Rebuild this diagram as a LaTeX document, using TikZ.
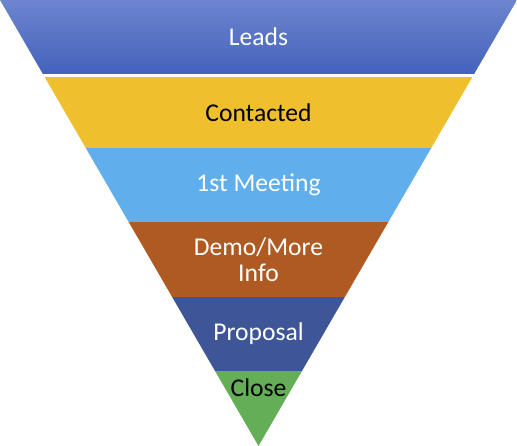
\documentclass[tikz,border=0pt]{standalone}
\usepackage{fontspec}
\setmainfont{Carlito}
\definecolor{leadtop}{HTML}{6D85CE}
\definecolor{leadbot}{HTML}{4462BD}
\definecolor{contc}{HTML}{F0BF2E}
\definecolor{meetc}{HTML}{61AEEC}
\definecolor{democ}{HTML}{AE5A22}
\definecolor{propc}{HTML}{3E5697}
\definecolor{closec}{HTML}{63AE56}
\tikzset{
  lbl/.style={font=\fontsize{25.6}{26}\selectfont, align=center, inner sep=0pt},
  wlbl/.style={lbl, text=white},
  blbl/.style={lbl, text=black},
}
\begin{document}
\begin{tikzpicture}[x=1pt,y=-1pt]
\useasboundingbox (0,0) rectangle (517,446);
\begin{scope}
\clip (0,0) -- (517,0) -- (258.5,446) -- cycle;
\shade[top color=leadtop, bottom color=leadbot] (0,0) rectangle (517,74);
\fill[contc] (0,77) rectangle (517,148.5);
\fill[meetc] (0,148) rectangle (517,222.5);
\fill[democ] (0,222) rectangle (517,297.5);
\fill[propc] (0,297) rectangle (517,371.5);
\fill[closec] (0,371) rectangle (517,447);
\end{scope}
\node[wlbl] (leads) at (258.5,37) {Leads};
\node[blbl] (contacted) at (258.5,113) {Contacted};
\node[wlbl] (meeting) at (258.5,185) {1st Meeting};
\node[wlbl] (demo) at (258.5,260) {Demo/More\\Info};
\node[wlbl] (proposal) at (258.5,334) {Proposal};
\node[blbl] (close) at (258.5,388) {Close};
\end{tikzpicture}
\end{document}
